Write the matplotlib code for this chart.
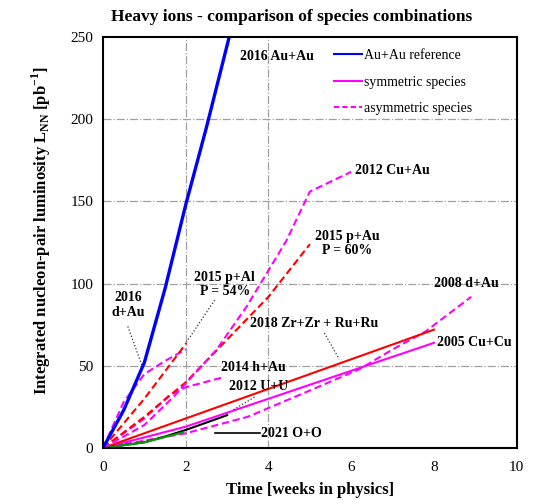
import matplotlib
matplotlib.use("Agg")
import matplotlib.pyplot as plt

plt.rcParams["font.family"] = ["Liberation Serif", "DejaVu Serif"]
plt.rcParams["mathtext.fontset"] = "custom"
plt.rcParams["mathtext.rm"] = "Liberation Serif:bold"
plt.rcParams["mathtext.bf"] = "Liberation Serif:bold"

BLUE = "#0000ff"
MAGENTA = "#ff00ff"
RED = "#ff0000"
GREEN = "#00a000"
DASH = (0, (3.5, 1.8))

# ---------------------------------------------------------------------
# data (weeks in physics, integrated L_NN in pb^-1)
# ---------------------------------------------------------------------
auau_t = [0, 0.5, 1.0, 1.5, 2.0, 2.5, 3.05]
auau_l = [0, 23, 52, 97, 148, 195, 250]

cuau_t = [0, 1.0, 1.7, 2.75, 3.47, 4.43, 5.0, 6.0]
cuau_l = [0, 14, 31, 60, 86, 126, 156, 168]

pau_t = [0, 1, 2, 3, 4, 5]
pau_l = [0, 19, 40, 66, 92, 124]

pal_t = [0, 1, 2.02]
pal_l = [0, 30, 64]

dau16_t = [0, 0.5, 1.0, 1.5, 2.0]
dau16_l = [0, 28, 45, 53, 60]

hau_t = [0, 1.0, 1.6, 2.0, 2.9]
hau_l = [0, 18, 32, 37, 43]

dau08_t = [0, 2.0, 3.5, 5.0, 6.2, 7.0, 7.8, 8.9]
dau08_l = [0, 9, 19, 35, 48, 60, 71, 92]

cucu_t = [0, 2, 4, 6, 8]
cucu_l = [0, 13, 30, 47, 64]

zrru_t = [0, 8]
zrru_l = [0, 72]

uu_t = [0, 1.0, 1.5, 2.0, 2.5, 3.0]
uu_l = [0, 3.5, 7, 11, 15.5, 20]

oo_t = [0, 1.0, 1.93]
oo_l = [0, 3.5, 9.5]

x_ticks = [0, 2, 4, 6, 8, 10]
y_ticks = [0, 50, 100, 150, 200, 250]

fig = plt.figure(figsize=(5.4, 5.04), dpi=100)
ax = fig.add_axes([0.1907, 0.111, 0.7663, 0.8156])

# grid (dash-dot, only at x = 2, 4)
for gx in [2, 4]:
    ax.axvline(gx, color="#a0a0a0", lw=0.9, ls="-.", zorder=0)
for gy in [50, 100, 150, 200]:
    ax.axhline(gy, color="#a0a0a0", lw=0.9, ls="-.", zorder=0)

ax.plot(cucu_t, cucu_l, color=MAGENTA, lw=1.5)
ax.plot(dau08_t, dau08_l, color=MAGENTA, lw=1.5, ls=DASH)
ax.plot(zrru_t, zrru_l, color=RED, lw=1.5)
ax.plot(uu_t, uu_l, color="black", lw=1.5)
ax.plot(oo_t, oo_l, color=GREEN, lw=1.5)
ax.plot(hau_t, hau_l, color=MAGENTA, lw=1.5, ls=DASH)
ax.plot(dau16_t, dau16_l, color=MAGENTA, lw=1.5, ls=DASH)
ax.plot(pal_t, pal_l, color=RED, lw=1.5, ls=DASH)
ax.plot(pau_t, pau_l, color=RED, lw=1.5, ls=DASH)
ax.plot(cuau_t, cuau_l, color=MAGENTA, lw=1.5, ls=DASH)
ax.plot(auau_t, auau_l, color=BLUE, lw=2.4)

# legend proxies
h1, = ax.plot([], [], color=BLUE, lw=1.5, label="Au+Au reference")
h2, = ax.plot([], [], color=MAGENTA, lw=1.5, label="symmetric species")
h3, = ax.plot([], [], color=MAGENTA, lw=1.5, ls=(0, (2.5, 1.5)), label="asymmetric species")
ax.legend(handles=[h1, h2, h3], loc="upper left", bbox_to_anchor=(0.558, 0.97),
          frameon=False, fontsize=10, handlelength=2.0, handletextpad=0.15,
          labelspacing=0.95, borderaxespad=0, borderpad=0)

# labels
kw = dict(fontsize=10, fontweight="bold")
ax.text(3.3, 238, "2016 Au+Au", va="center", ha="left", **kw)
ax.text(6.1, 169, "2012 Cu+Au", va="center", ha="left", **kw)
ax.text(5.9, 124.5, "2015 p+Au\nP = 60%", va="center", ha="center", linespacing=1.1, **kw)
ax.text(8.0, 100, "2008 d+Au", va="center", ha="left", **kw)
ax.text(8.07, 64.5, "2005 Cu+Cu", va="center", ha="left", **kw)
ax.text(5.1, 76, "2018 Zr+Zr + Ru+Ru", va="center", ha="center", **kw)
ax.text(2.86, 49, "2014 h+Au", va="center", ha="left", **kw)
ax.text(3.76, 37.5, "2012 U+U", va="center", ha="center", **kw)
ax.text(3.83, 9, "2021 O+O", va="center", ha="left", **kw)
ax.text(0.6, 87, "2016\nd+Au", va="center", ha="center", linespacing=1.15, **kw)
ax.text(2.94, 99.5, "2015 p+Al\nP = 54%", va="center", ha="center", linespacing=1.1, **kw)

# leaders
lk = dict(color="#333333", lw=0.9, ls=":")
ax.plot([0.6, 0.96], [74, 49], **lk)
ax.plot([2.7, 2.02], [90, 64.5], **lk)
ax.plot([3.66, 3.13], [31, 23], **lk)
ax.plot([5.35, 5.71], [70, 54], **lk)
ax.plot([2.7, 3.8], [9, 9], color="black", lw=1.2)

ax.set_xlim(0, 10)
ax.set_ylim(0, 250)
ax.set_xticks(x_ticks)
ax.set_yticks(y_ticks)
ax.tick_params(length=0, labelsize=11, pad=7)
ax.tick_params(axis="x", pad=9)
for s in ax.spines.values():
    s.set_linewidth(1.5)

ax.set_xlabel("Time [weeks in physics]", fontsize=12, fontweight="bold", labelpad=6)
ax.set_ylabel(r"Integrated nucleon-pair luminosity L$_{\mathrm{NN}}$ [pb$^{\mathrm{-1}}$]",
              fontsize=12, fontweight="bold")
ax.yaxis.set_label_coords(-0.121, 0.53)
fig.text(0.54, 0.966, "Heavy ions - comparison of species combinations",
         ha="center", va="center", fontsize=12.5, fontweight="bold")

fig.savefig("out.png", dpi=100)
